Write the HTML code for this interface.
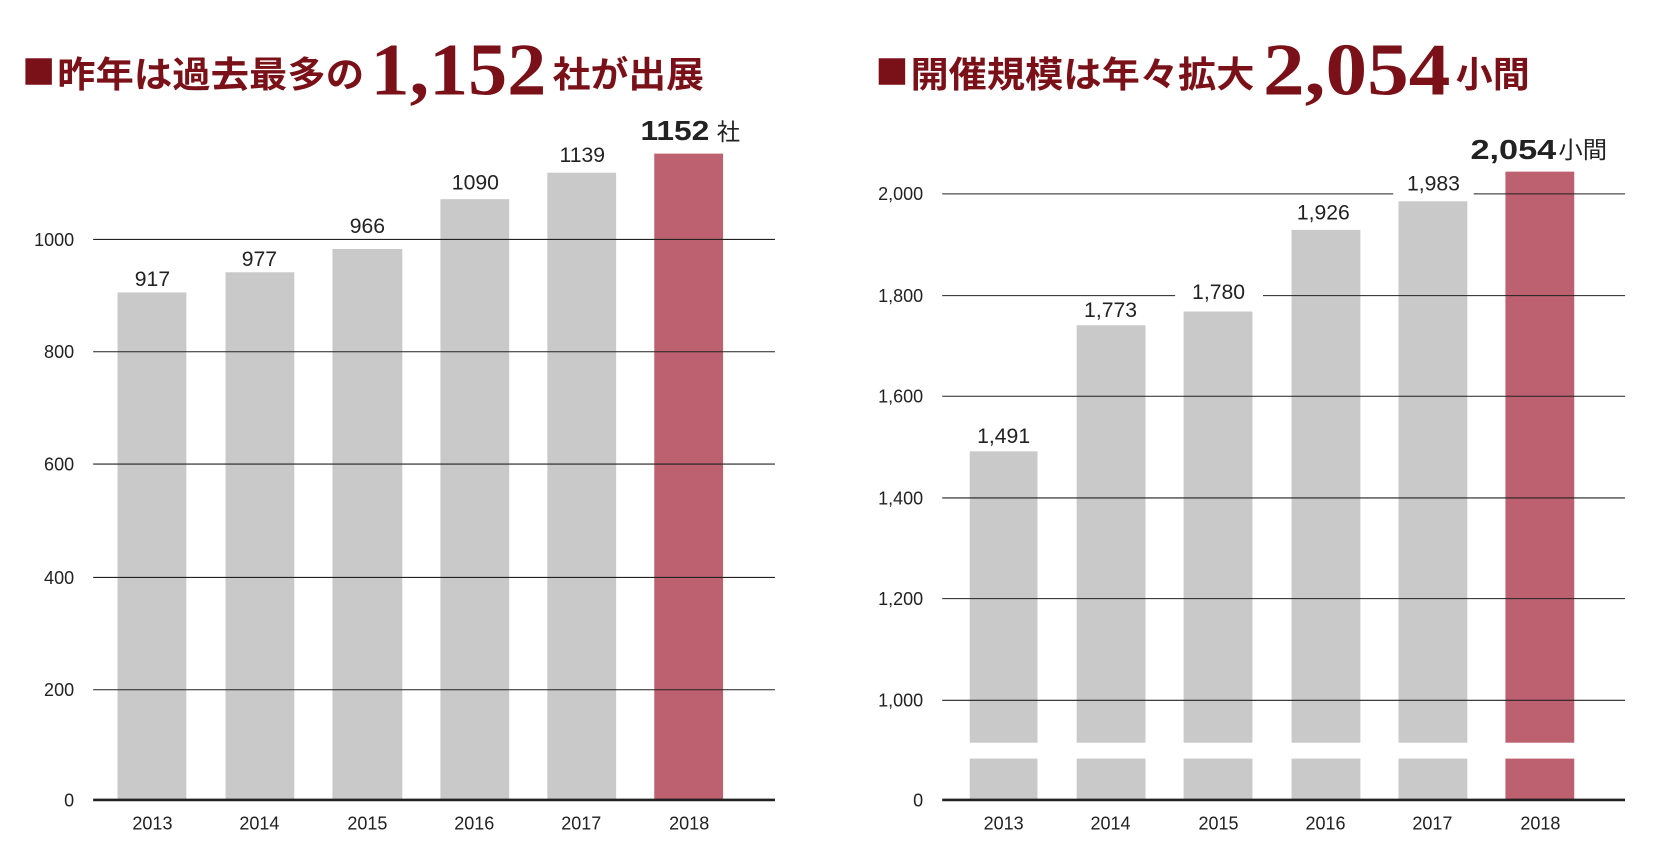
<!DOCTYPE html>
<html><head><meta charset="utf-8"><style>
html,body{margin:0;padding:0;background:#fff;}
svg{display:block;}
text{font-family:"Liberation Sans","Noto Sans CJK JP",sans-serif;}
</style></head><body>
<svg width="1660" height="855" viewBox="0 0 1568 807" preserveAspectRatio="none" xmlns="http://www.w3.org/2000/svg">
<!-- Left title -->
<rect x="24" y="55" width="25" height="25" fill="#7b1118"/>
<text x="54" y="82" font-size="34" font-weight="bold" fill="#7b1118" textLength="290" lengthAdjust="spacingAndGlyphs">昨年は過去最多の</text>
<text x="350" y="89" font-size="70" font-weight="bold" fill="#7b1118" style="font-family:'Liberation Serif',serif" textLength="166" lengthAdjust="spacingAndGlyphs">1,152</text>
<text x="522" y="82" font-size="34" font-weight="bold" fill="#7b1118" textLength="143" lengthAdjust="spacingAndGlyphs">社が出展</text>
<!-- Right title -->
<rect x="830" y="55" width="25" height="25" fill="#7b1118"/>
<text x="860" y="82" font-size="34" font-weight="bold" fill="#7b1118" textLength="325" lengthAdjust="spacingAndGlyphs">開催規模は年々拡大</text>
<text x="1193" y="89" font-size="70" font-weight="bold" fill="#7b1118" style="font-family:'Liberation Serif',serif" textLength="177" lengthAdjust="spacingAndGlyphs">2,054</text>
<text x="1375" y="82" font-size="34" font-weight="bold" fill="#7b1118" textLength="70" lengthAdjust="spacingAndGlyphs">小間</text>

<!-- Left chart -->
<g fill="#c8c9c8">
<rect x="111" y="276" width="65" height="479"/>
<rect x="213" y="257" width="65" height="498"/>
<rect x="314" y="235" width="66" height="520"/>
<rect x="416" y="188" width="65" height="567"/>
<rect x="517" y="163" width="65" height="592"/>
</g>
<rect x="618" y="145" width="65" height="610" fill="#bd6070"/>
<g stroke="#222" stroke-width="1">
<line x1="88" y1="226" x2="732" y2="226"/>
<line x1="88" y1="332" x2="732" y2="332"/>
<line x1="88" y1="438" x2="732" y2="438"/>
<line x1="88" y1="545" x2="732" y2="545"/>
<line x1="88" y1="651" x2="732" y2="651"/>
</g>
<line x1="88" y1="755" x2="732" y2="755" stroke="#222" stroke-width="2.5"/>
<g font-size="17" fill="#222" text-anchor="end">
<text x="70" y="232">1000</text><text x="70" y="338">800</text><text x="70" y="444">600</text>
<text x="70" y="551">400</text><text x="70" y="657">200</text><text x="70" y="761">0</text>
</g>
<g font-size="17" fill="#222" text-anchor="middle">
<text x="144" y="783">2013</text><text x="245" y="783">2014</text><text x="347" y="783">2015</text>
<text x="448" y="783">2016</text><text x="549" y="783">2017</text><text x="651" y="783">2018</text>
</g>
<g font-size="20" fill="#222" text-anchor="middle">
<text x="144" y="270">917</text><text x="245" y="251">977</text><text x="347" y="220">966</text>
<text x="449" y="179">1090</text><text x="550" y="153">1139</text>
</g>
<text x="605" y="132" font-size="26" font-weight="bold" fill="#222" textLength="65" lengthAdjust="spacingAndGlyphs">1152</text>
<text x="677" y="132" font-size="22" fill="#222">社</text>

<!-- Right chart -->
<g fill="#c8c9c8">
<rect x="916" y="426" width="64" height="275"/>
<rect x="1017" y="307" width="65" height="394"/>
<rect x="1118" y="294" width="65" height="407"/>
<rect x="1220" y="217" width="65" height="484"/>
<rect x="1321" y="190" width="65" height="511"/>
<rect x="916" y="716" width="64" height="39"/>
<rect x="1017" y="716" width="65" height="39"/>
<rect x="1118" y="716" width="65" height="39"/>
<rect x="1220" y="716" width="65" height="39"/>
<rect x="1321" y="716" width="65" height="39"/>
</g>
<g fill="#bd6070">
<rect x="1422" y="162" width="65" height="539"/>
<rect x="1422" y="716" width="65" height="39"/>
</g>
<g stroke="#222" stroke-width="1">
<line x1="890" y1="183" x2="1316" y2="183"/><line x1="1392" y1="183" x2="1535" y2="183"/>
<line x1="890" y1="279" x2="1110" y2="279"/><line x1="1193" y1="279" x2="1535" y2="279"/>
<line x1="890" y1="374" x2="1535" y2="374"/>
<line x1="890" y1="470" x2="1535" y2="470"/>
<line x1="890" y1="565" x2="1535" y2="565"/>
<line x1="890" y1="661" x2="1535" y2="661"/>
</g>
<line x1="890" y1="755" x2="1535" y2="755" stroke="#222" stroke-width="2.5"/>
<g font-size="17" fill="#222" text-anchor="end">
<text x="872" y="189">2,000</text><text x="872" y="285">1,800</text><text x="872" y="380">1,600</text>
<text x="872" y="476">1,400</text><text x="872" y="571">1,200</text><text x="872" y="667">1,000</text>
<text x="872" y="761">0</text>
</g>
<g font-size="17" fill="#222" text-anchor="middle">
<text x="948" y="783">2013</text><text x="1049" y="783">2014</text><text x="1151" y="783">2015</text>
<text x="1252" y="783">2016</text><text x="1353" y="783">2017</text><text x="1455" y="783">2018</text>
</g>
<g font-size="20" fill="#222" text-anchor="middle">
<text x="948" y="418">1,491</text><text x="1049" y="299">1,773</text><text x="1151" y="282">1,780</text>
<text x="1250" y="207">1,926</text><text x="1354" y="180">1,983</text>
</g>
<text x="1389" y="150" font-size="26" font-weight="bold" fill="#222" textLength="81" lengthAdjust="spacingAndGlyphs">2,054</text>
<text x="1472" y="149" font-size="22" fill="#222" textLength="46" lengthAdjust="spacingAndGlyphs">小間</text>
</svg>
</body></html>
